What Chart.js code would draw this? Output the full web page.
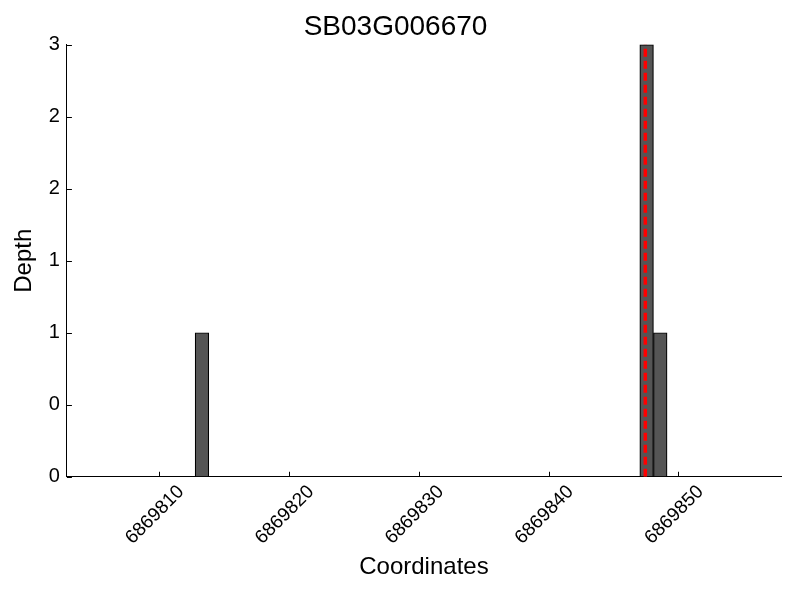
<!DOCTYPE html>
<html>
<head>
<meta charset="utf-8">
<script src="https://cdn.jsdelivr.net/npm/chart.js@4/dist/chart.umd.min.js"></script>
<style>
  html, body { margin: 0; padding: 0; background: #fff; }
  #wrap { width: 800px; height: 600px; }
</style>
</head>
<body>
<div id="wrap"><canvas id="depthChart" width="800" height="600"></canvas></div>
<script>
// histogram bins (centre of each bin) and depth values
var binCentres = [6869813.3, 6869847.55, 6869848.6];
var depths = [1, 3, 1];

// position of the red dashed marker
var markerPos = 6869847.45;
var markerSpan = [0, 3];

var xTicks = [6869810, 6869820, 6869830, 6869840, 6869850];
var yTicks = [0, 0.5, 1, 1.5, 2, 2.5, 3];
var yTickLabels = ["0", "0", "1", "1", "2", "2", "3"];

var xMin = 6869802.9;
var xMax = 6869857.9;

var fontName = "'Liberation Sans', Arial, sans-serif";

// ticks drawn inward like the original
var innerTicks = {
  id: 'innerTicks',
  afterDatasetsDraw: function(chart) {
    var ctx = chart.ctx;
    var area = chart.chartArea;
    var xs = chart.scales.x, ys = chart.scales.y;
    ctx.save();
    ctx.strokeStyle = '#000';
    ctx.lineWidth = 1;
    ctx.beginPath();
    xTicks.forEach(function(v) {
      var px = Math.round(xs.getPixelForValue(v)) + 0.5;
      ctx.moveTo(px, area.bottom);
      ctx.lineTo(px, area.bottom - 5);
    });
    yTicks.forEach(function(v) {
      var py = Math.round(ys.getPixelForValue(v)) + 0.5;
      ctx.moveTo(area.left, py);
      ctx.lineTo(area.left + 5, py);
    });
    ctx.stroke();
    ctx.restore();
  }
};

var barData = binCentres.map(function(c, i) { return {x: c, y: depths[i]}; });
var markerData = markerSpan.map(function(v) { return {x: markerPos, y: v}; });

var depthChart = new Chart(document.getElementById("depthChart"), {
  type: 'bar',
  data: {
    datasets: [{
      type: 'line',
      data: markerData,
      borderColor: '#ff0000',
      borderWidth: 3.5,
      borderDash: [8, 4],
      borderCapStyle: 'butt',
      pointRadius: 0,
      fill: false,
      order: 0
    }, {
      data: barData,
      backgroundColor: '#555555',
      borderColor: '#000000',
      borderWidth: 1.2,
      barPercentage: 1.0,
      categoryPercentage: 1.0,
      order: 1
    }]
  },
  options: {
    responsive: false,
    animation: false,
    layout: { padding: { left: 10, right: 19, top: 10, bottom: 14 } },
    plugins: {
      legend: { display: false },
      tooltip: { enabled: false },
      title: {
        display: true,
        text: 'SB03G006670',
        color: '#000',
        font: { family: fontName, size: 28, weight: 'normal' },
        padding: { top: 0, bottom: 1 }
      }
    },
    scales: {
      x: {
        type: 'linear',
        offset: false,
        min: xMin,
        max: xMax,
        afterBuildTicks: function(scale) {
          scale.ticks = xTicks.map(function(v) { return {value: v}; });
        },
        grid: { display: true, drawOnChartArea: false, drawTicks: false },
        border: { display: true, color: '#000', width: 1 },
        ticks: {
          color: '#000',
          font: { family: fontName, size: 19 },
          minRotation: 45,
          maxRotation: 45,
          padding: 4,
          labelOffset: 22,
          callback: function(v) { return String(v); }
        },
        title: {
          display: true,
          text: 'Coordinates',
          color: '#000',
          font: { family: fontName, size: 24 },
          padding: { top: 0, bottom: 4 }
        }
      },
      y: {
        min: 0,
        max: 3,
        afterBuildTicks: function(scale) {
          scale.ticks = yTicks.map(function(v) { return {value: v}; });
        },
        grid: { display: true, drawOnChartArea: false, drawTicks: false },
        border: { display: true, color: '#000', width: 1 },
        ticks: {
          color: '#000',
          font: { family: fontName, size: 20 },
          padding: 7,
          callback: function(v, i) { return yTickLabels[i]; }
        },
        title: {
          display: true,
          text: 'Depth',
          color: '#000',
          font: { family: fontName, size: 24 },
          padding: { top: 0, bottom: 3 }
        }
      }
    }
  },
  plugins: [innerTicks]
});
</script>
</body>
</html>
